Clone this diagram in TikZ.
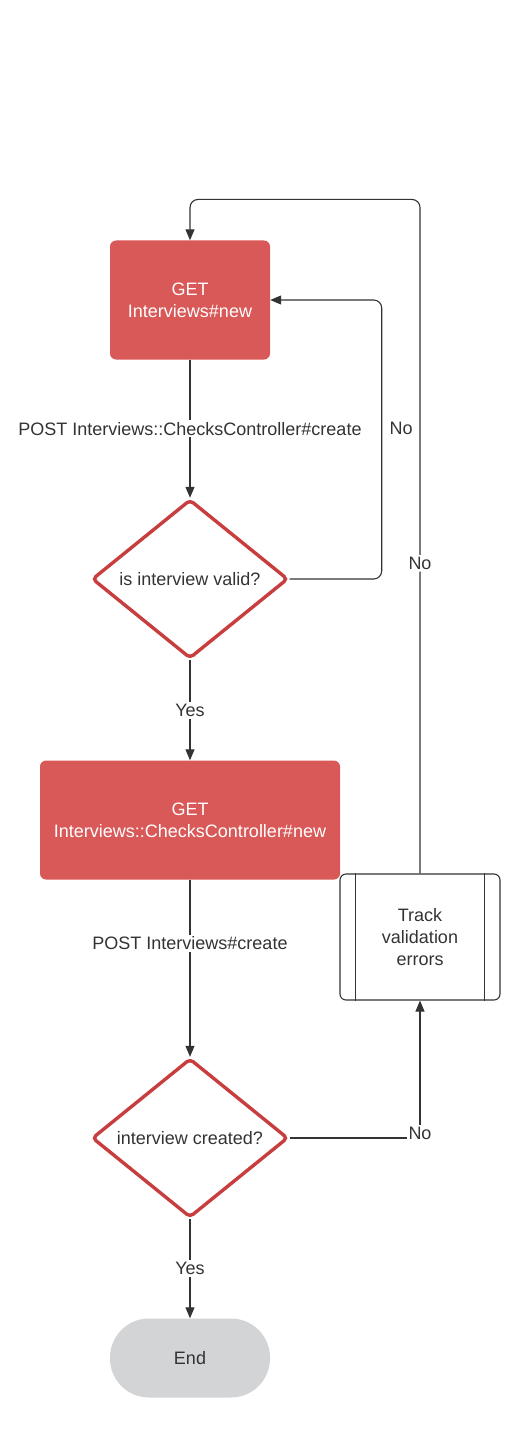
\documentclass[tikz,border=0pt]{standalone}
\usepackage{fontspec}
\setmainfont{Liberation Sans}
\usepackage{xcolor}
\usepackage{tikz}
\usetikzlibrary{arrows.meta,shapes.geometric}

\definecolor{boxred}{RGB}{217,88,88}
\definecolor{edgered}{RGB}{200,62,62}
\definecolor{endgrey}{RGB}{211,212,214}
\definecolor{ink}{RGB}{51,51,51}

\begin{document}
\begin{tikzpicture}[x=1pt, y=-1pt, font=\fontsize{18}{22}\selectfont,
  getbox/.style={rectangle, rounded corners=6pt, fill=boxred, text=white, minimum height=119pt, align=center, inner sep=0pt},
  decision/.style={diamond, draw=edgered, line width=3.4pt, rounded corners=4pt, minimum width=196pt, minimum height=159pt, inner sep=0pt, text=ink},
  process/.style={rectangle, draw=ink, line width=1.1pt, rounded corners=6pt, minimum width=160pt, minimum height=126pt, align=center, text=ink},
  terminal/.style={rectangle, rounded corners=39pt, fill=endgrey, minimum width=160pt, minimum height=79pt, text=ink},
  flow/.style={draw=ink, line width=1.1pt, -{Triangle[length=11pt,width=9pt]}},
  edgelabel/.style={fill=white, text=ink, inner sep=2pt}]
 \useasboundingbox (0,0) rectangle (531,1439);

 % steps
 \node [getbox, minimum width=160pt] (getnew) at (190,300) {GET\\Interviews\#new};
 \node [decision] (valid) at (190,579) {\makebox[0pt]{is interview valid?}};
 \node [getbox, minimum width=300pt] (getchecks) at (190,820) {GET\\Interviews::ChecksController\#new};
 \node [decision] (created) at (190,1138) {\makebox[0pt]{interview created?}};
 \node [process] (track) at (420,937) {Track\\validation\\errors};
 \node [terminal] (end) at (190,1358) {End};
 \draw [ink, line width=1.1pt] ([xshift=16pt]track.north west) -- ([xshift=16pt]track.south west);
 \draw [ink, line width=1.1pt] ([xshift=-16pt]track.north east) -- ([xshift=-16pt]track.south east);

 % main flow
 \draw [flow] (getnew) -- node [edgelabel] {POST Interviews::ChecksController\#create} (valid);
 \draw [flow] (valid) -- node [edgelabel] {Yes} (getchecks);
 \draw [flow] (getchecks) -- node [edgelabel, pos=0.36] {POST Interviews\#create} (created);
 \draw [flow] (created) -- node [edgelabel] {Yes} (end);

 % loops back
 \draw [flow, rounded corners=8pt] (valid.east) -- ++(92,0) -- ++(0,-279) node [pos=0.54, right, text=ink, xshift=4pt] {No} -- (getnew.east);
 \draw [flow] (created.east) -| node [edgelabel, pos=0.5, yshift=5pt] {No} (track.south);
 \draw [flow, rounded corners=8pt] (track.north) -- ++(0,-674) node [edgelabel, pos=0.46] {No} -| (getnew.north);
\end{tikzpicture}
\end{document}
